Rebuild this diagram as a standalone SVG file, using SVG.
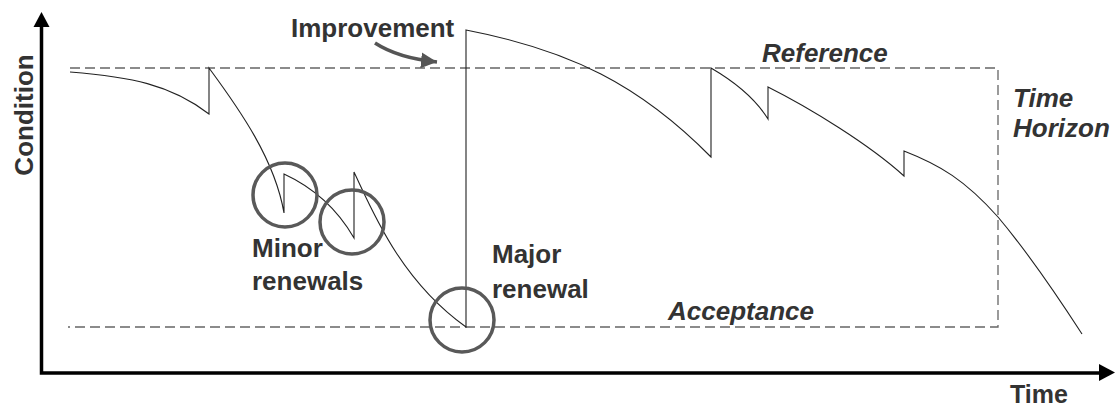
<svg xmlns="http://www.w3.org/2000/svg" width="1115" height="409" viewBox="0 0 1115 409">
  <style>
    .lbl { font-family: "Liberation Sans", Arial, sans-serif; font-size: 26px; font-weight: bold; fill: #333333; }
    .it { font-style: italic; }
    .dash { fill: none; stroke: #666666; stroke-width: 1.3; stroke-dasharray: 10 5; }
    .curve { fill: none; stroke: #222222; stroke-width: 1.1; stroke-linejoin: miter; }
    .ring { fill: none; stroke: #595959; stroke-width: 3.5; }
    .axis { fill: none; stroke: #000000; stroke-width: 3.5; }
  </style>
  <defs>
    <marker id="imp-head" markerUnits="userSpaceOnUse" markerWidth="18" markerHeight="16" refX="16" refY="8" orient="auto">
      <path d="M0,0 L16,8 L0,16 Z" fill="#555555"/>
    </marker>
  </defs>
  <rect width="1115" height="409" fill="#ffffff"/>

  <!-- axes -->
  <g id="axes">
    <path class="axis" d="M41.5,26 V373 H1100"/>
    <path d="M33.5,27 L41.5,12 L49.5,27 Z" fill="#000000"/>
    <path d="M1099,364 L1115,372.5 L1099,381 Z" fill="#000000"/>
    <text class="lbl" transform="translate(33,115) rotate(-90)" text-anchor="middle">Condition</text>
    <text class="lbl" x="1010" y="403" style="font-size:25px">Time</text>
  </g>

  <!-- reference, acceptance and horizon limits -->
  <g id="limits">
    <path class="dash" d="M70,68 H998 V327 H68"/>
    <text class="lbl it" x="762" y="62">Reference</text>
    <text class="lbl it" x="668" y="320">Acceptance</text>
    <text class="lbl it" x="1013" y="107">Time</text>
    <text class="lbl it" x="1013" y="137">Horizon</text>
  </g>

  <!-- condition over time -->
  <g id="condition-curve">
    <path class="curve" d="M70,72 C130,77 170,84 209,114 V68 C240,110 275,160 284,213 V174 C310,186 335,205 354,238 V172 C372,210 400,280 466,327 V30 C570,50 640,85 711,157 V68 C735,82 755,98 768,119 V87 C810,108 870,145 904,176 V151 C940,165 965,180 998,217 C1030,255 1060,300 1082,334"/>
  </g>

  <!-- minor renewals -->
  <g id="minor-renewals">
    <circle class="ring" cx="285" cy="195" r="32"/>
    <circle class="ring" cx="352" cy="222" r="32"/>
    <text class="lbl" x="252" y="257">Minor</text>
    <text class="lbl" x="252" y="290">renewals</text>
  </g>

  <!-- major renewal -->
  <g id="major-renewal">
    <circle class="ring" cx="462" cy="320" r="32"/>
    <text class="lbl" x="492" y="263">Major</text>
    <text class="lbl" x="492" y="298">renewal</text>
  </g>

  <!-- improvement -->
  <g id="improvement">
    <text class="lbl" x="291" y="37">Improvement</text>
  </g>

  <g id="connectors">
    <path d="M375,43 Q398,58 437,62" fill="none" stroke="#555555" stroke-width="3.5" marker-end="url(#imp-head)"/>
  </g>
</svg>
